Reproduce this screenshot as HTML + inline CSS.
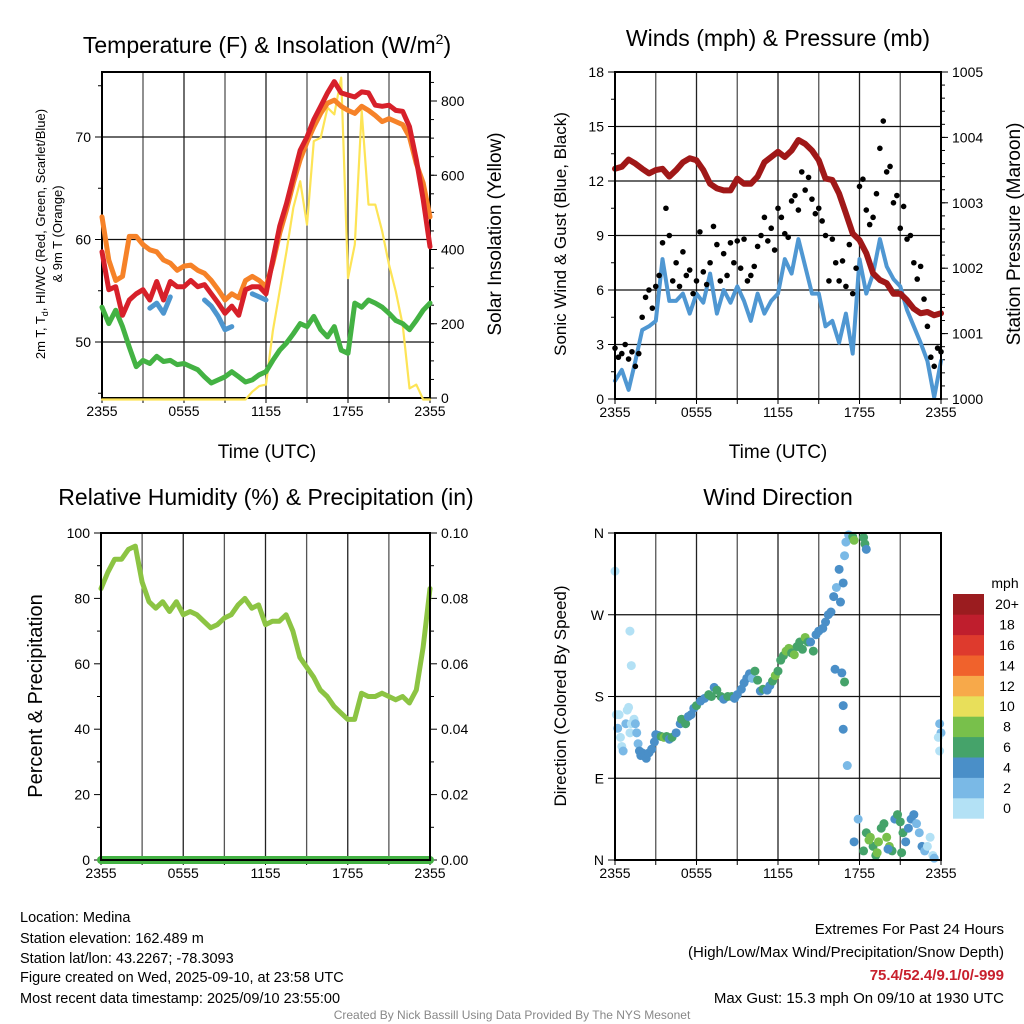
<!DOCTYPE html>
<html><head><meta charset="utf-8"><title>Medina Mesonet</title>
<style>
html,body{margin:0;padding:0;background:#fff;}
svg{display:block;font-family:"Liberation Sans",sans-serif;}
</style></head>
<body>
<svg id="fig" width="1024" height="1024" viewBox="0 0 1024 1024" xmlns="http://www.w3.org/2000/svg">
<rect x="0" y="0" width="1024" height="1024" fill="#fff"/>
<text x="267" y="53" font-size="23" text-anchor="middle">Temperature (F) &amp; Insolation (W/m<tspan font-size="14" dy="-9">2</tspan><tspan dy="9">)</tspan></text>
<text x="778" y="46" font-size="23" text-anchor="middle">Winds (mph) &amp; Pressure (mb)</text>
<text x="266" y="505" font-size="23" text-anchor="middle">Relative Humidity (%) &amp; Precipitation (in)</text>
<text x="778" y="505" font-size="23" text-anchor="middle">Wind Direction</text>

<text x="267" y="458" font-size="19" text-anchor="middle">Time (UTC)</text>
<text x="778" y="458" font-size="19" text-anchor="middle">Time (UTC)</text>

<text transform="translate(45,234) rotate(-90)" font-size="13" text-anchor="middle">2m T, T<tspan font-size="9" dy="3">d</tspan><tspan dy="-3">, HI/WC (Red, Green, Scarlet/Blue)</tspan></text>
<text transform="translate(62,234) rotate(-90)" font-size="13" text-anchor="middle">&amp; 9m T (Orange)</text>
<text transform="translate(501,234) rotate(-90)" font-size="19" text-anchor="middle">Solar Insolation (Yellow)</text>
<text transform="translate(566,234) rotate(-90)" font-size="17" text-anchor="middle">Sonic Wind &amp; Gust (Blue, Black)</text>
<text transform="translate(1020,234) rotate(-90)" font-size="19" text-anchor="middle">Station Pressure (Maroon)</text>
<text transform="translate(42,696) rotate(-90)" font-size="20" text-anchor="middle">Percent &amp; Precipitation</text>
<text transform="translate(566,696) rotate(-90)" font-size="17" text-anchor="middle">Direction (Colored By Speed)</text>

<g id="panels"></g>

<g font-size="14.5">
<text x="20" y="922">Location: Medina</text>
<text x="20" y="943">Station elevation: 162.489 m</text>
<text x="20" y="963">Station lat/lon: 43.2267; -78.3093</text>
<text x="20" y="982">Figure created on Wed, 2025-09-10, at 23:58 UTC</text>
<text x="20" y="1003">Most recent data timestamp: 2025/09/10 23:55:00</text>
</g>
<g font-size="15" text-anchor="end">
<text x="1004" y="934">Extremes For Past 24 Hours</text>
<text x="1004" y="957">(High/Low/Max Wind/Precipitation/Snow Depth)</text>
<text x="1004" y="980" fill="#c8202d" font-weight="bold">75.4/52.4/9.1/0/-999</text>
<text x="1004" y="1003">Max Gust: 15.3 mph On 09/10 at 1930 UTC</text>
</g>
<text x="512" y="1019" font-size="12" fill="#888" text-anchor="middle">Created By Nick Bassill Using Data Provided By The NYS Mesonet</text>
</svg>
<script>
// ---- data (half-hourly, hours since 2355 UTC) ----
const hours = [0,0.5,1,1.5,2,2.5,3,3.5,4,4.5,5,5.5,6,6.5,7,7.5,8,8.5,9,9.5,10,10.5,11,11.5,12,12.5,13,13.5,14,14.5,15,15.5,16,16.5,17,17.5,18,18.5,19,19.5,20,20.5,21,21.5,22,22.5,23,23.5,24];
const temp2m = [58.8,55.1,55.4,52.6,54.1,54.7,55.1,54.1,55.9,54.1,55.9,55.4,55.4,56.0,55.4,55.6,54.7,53.8,52.8,53.5,52.6,55.1,55.4,55.4,54.7,58,61.3,63.5,66.1,68.7,70,71.7,73,74.3,75.4,74.3,74.1,73.9,74.4,74.3,73.1,73,73.1,72.6,72.5,71,67.8,63.9,59.3];
const temp9m = [62.2,58,56,56.4,60.3,60.3,59.5,59,58.8,58,57.7,57,57.4,57.5,57,56.7,56,55.1,54.1,54.7,54.3,56,56.4,56,55.4,57.7,60.6,62.9,65.5,67.8,69.5,71,72.3,73.3,73.6,73,72.6,72.3,73,72.6,72.1,71.5,71.8,71.5,71.2,70,67.4,65.5,62.2];
const hiwc = [null,null,null,null,null,null,null,53.3,53.8,52.8,54.4,null,null,null,null,54.1,53.5,52.5,51.2,51.5,null,null,54.7,54.4,54.1,null,null,null,null,null,null,null,null,null,null,null,null,null,null,null,null,null,null,null,null,null,null,null,null];
const dewpt = [53.4,51.8,53.1,51.5,49.5,47.6,48.2,47.9,48.6,48.1,48.2,47.8,47.9,47.6,47.3,46.6,46,46.3,46.6,47.1,46.6,46.1,46.3,46.8,47.1,48.2,49.2,49.9,50.8,51.8,51.5,52.5,51.2,50.5,51.5,49.2,48.9,53.8,53.4,54.1,53.8,53.4,52.8,52.1,51.8,51.2,52.1,53.1,53.8];
const solar = [0,0,0,0,0,0,0,0,0,0,0,0,0,0,0,0,0,0,0,0,0,0,21,36,40,184,292,399,516,588,471,696,705,786,768,867,327,417,777,525,525,453,363,291,201,30,40,0,0];
const windSpd = [1.0,1.6,0.5,2.1,3.8,4.0,4.3,7.7,5.4,5.4,5.8,4.7,5.8,5.3,6.9,4.7,6.0,5.3,6.2,5.4,4.3,5.8,4.7,5.4,5.8,7.7,6.9,8.8,7.3,5.8,5.8,4.0,4.3,3.1,4.7,2.5,7.7,5.8,6.9,8.8,7.3,6.6,6.2,4.9,4.0,3.1,2.1,0.1,2.1];
const pressure = [1003.52,1003.55,1003.66,1003.6,1003.52,1003.45,1003.5,1003.52,1003.4,1003.5,1003.62,1003.68,1003.65,1003.5,1003.29,1003.22,1003.19,1003.19,1003.37,1003.29,1003.29,1003.4,1003.62,1003.7,1003.78,1003.7,1003.8,1003.96,1003.9,1003.8,1003.65,1003.37,1003.35,1003.14,1002.84,1002.53,1002.43,1002.23,1001.92,1001.82,1001.77,1001.61,1001.61,1001.51,1001.38,1001.31,1001.33,1001.28,1001.31];
const rh = [83,88,92,92,95,96,85,79,77,79,76,79,75,76,75,73,71,72,74,75,78,80,77,78,72,73,73,75,70,62,59,56,52,50,47,45,43,43,51,50,50,51,50,49,50,48,52,65,83];
const precip = [0,0,0,0,0,0,0,0,0,0,0,0,0,0,0,0,0,0,0,0,0,0,0,0,0,0,0,0,0,0,0,0,0,0,0,0,0,0,0,0,0,0,0,0,0,0,0,0,0];
// gusts every 15 min
const gusts = [2.8,2.3,2.5,3.0,2.2,2.6,1.8,2.5,4.5,5.6,6.0,5.0,6.2,6.8,8.6,10.5,9.0,6.5,7.5,6.2,8.1,6.8,7.1,5.8,6.5,9.2,7.0,6.3,7.5,9.5,8.5,6.5,8.0,6.8,8.6,7.5,8.7,7.2,8.8,6.5,6.8,7.3,8.4,9.0,10.0,8.7,9.4,8.2,10.5,10.0,9.1,8.9,10.9,11.2,10.4,12.5,11.5,12.2,11.0,10.2,10.5,9.8,9.0,6.5,8.8,7.5,6.5,7.6,6.2,8.5,5.8,7.2,11.7,12.1,10.4,9.6,10.0,11.3,13.8,15.3,12.5,12.8,10.8,11.2,9.4,10.6,8.8,9.0,7.5,6.6,7.3,5.5,4.0,2.3,1.8,2.8,2.6];
// wind direction scatter
const dirHours = [0.0,0.1,0.2,0.3,0.4,0.5,0.6,0.8,0.9,1.0,1.1,1.2,1.1,1.2,1.4,1.5,1.6,1.7,1.8,1.9,2.0,2.2,2.3,2.5,2.7,2.9,3.0,3.2,3.4,3.6,3.8,4.0,4.2,4.5,4.8,4.9,5.2,5.4,5.6,5.8,6.0,6.3,6.6,6.9,7.1,7.3,7.5,7.8,8.0,8.3,8.6,8.8,9.0,9.3,9.5,9.7,9.9,10.1,10.3,10.5,10.7,10.9,11.2,11.4,11.6,11.8,12.0,12.2,12.4,12.6,12.8,13.0,13.2,13.4,13.6,13.8,14.0,14.2,14.4,14.6,14.8,15.0,15.3,15.5,15.7,15.9,16.1,16.3,16.5,16.2,16.6,16.8,16.9,17.0,17.2,17.5,17.6,18.3,18.4,18.5,16.7,16.9,16.8,16.8,17.1,17.9,17.6,18.3,18.5,18.8,19.0,19.2,19.4,19.6,19.8,20.0,20.2,20.4,20.6,20.8,21.0,21.2,21.4,21.6,21.8,22.0,22.2,22.4,22.6,22.8,23.0,23.2,23.4,23.5,18.7,19.3,20.1,21.1,23.9,24.0,23.8,23.9];
const dirDeg = [318,160,145,160,135,125,120,150,165,168,252,214,140,150,155,150,140,128,120,115,118,115,112,118,122,130,138,137,136,135,136,133,135,140,150,155,150,158,160,167,170,175,178,182,180,190,187,180,177,180,180,178,182,188,195,200,205,200,208,198,186,188,187,192,197,203,208,220,225,230,233,228,226,235,240,232,245,240,240,230,248,252,255,262,270,273,290,300,320,210,284,305,335,350,358,356,352,355,348,342,206,196,170,144,104,45,20,10,30,25,15,5,20,35,40,25,15,10,45,50,42,30,20,35,45,50,40,30,15,10,15,25,5,2,22,8,12,8,150,140,135,120];
const dirSpd = [0.5,1,2.5,0.5,1,0.5,2.5,2.5,1,0.5,0.5,0.5,0.5,1,0.5,2.5,2.5,3.5,4.5,4.5,4.5,4.5,4.5,4.5,4.5,4.5,4.5,5,6.5,8.5,6.5,4.5,6.5,4.5,4.5,6.5,6.5,4.5,4.5,4.5,6.5,4.5,4.5,6.5,6.5,4.5,6.5,6.5,4.5,6.5,6.5,4.5,4.5,4.5,4.5,4.5,4.5,3.5,6.5,6.5,4.5,6.5,4.5,4.5,6.5,8.5,6.5,6.5,6.5,8.5,8.5,6.5,8.5,6.5,6.5,6.5,8.5,6.5,4.5,6.5,4.5,4.5,4.5,4.5,4.5,4.5,4.5,2.5,4.5,4.5,4.5,4.5,2.5,2.5,2.5,6.5,8.5,6.5,6.5,4.5,4.5,6.5,4.5,4.5,2.5,2.5,4.5,6.5,6.5,8.5,6.5,6.5,8.5,6.5,6.5,8.5,8.5,6.5,4.5,6.5,6.5,6.5,4.5,4.5,4.5,4.5,2.5,2.5,4.5,2.5,0.5,0.5,0.5,2.5,8.5,8.5,4.5,6.5,2.5,2.5,0.5,0.5];
const cbLabels = ["0","2","4","6","8","10","12","14","16","18","20+"];
const cbColors = ["#b3e1f5","#7ab9e6","#4a8fc8","#45a36a","#78c04b","#e8df5a","#f7a94a","#f0622c","#de3a2d","#bf1e2d","#9b1c1f"];
const xTickHours = [0,6,12,18,24];
const xTickLabels = ["2355","0555","1155","1755","2355"];

const NS = "http://www.w3.org/2000/svg";
const root = document.getElementById('panels');
function el(tag, attrs, parent){
  const e = document.createElementNS(NS, tag);
  for (const k in attrs) e.setAttribute(k, attrs[k]);
  (parent||root).appendChild(e);
  return e;
}
function lin(d0,d1,r0,r1){ return v => r0 + (v-d0)/(d1-d0)*(r1-r0); }

function frame(P, name){
  const g = el('g', {});
  
  
  P.x = lin(0,24,P.x0,P.x1);
  for (let h=3; h<24; h+=3){
    const ln = el('line',{x1:P.x(h),x2:P.x(h),y1:P.y0,y2:P.y1,stroke:(h%6===0?'#222':'#555'),'stroke-width':1.3},g);
    
    
  }
  for (let h=0; h<=24; h+=3){
    el('line',{x1:P.x(h),x2:P.x(h),y1:P.y1,y2:P.y1+5,stroke:'#000','stroke-width':1},g);
  }
  xTickHours.forEach((h,i)=>{
    const t = el('text',{x:P.x(h),y:P.y1+18,'font-size':14,'text-anchor':'middle'},g);
    t.textContent = xTickLabels[i];
    
    
  });
  return g;
}
function yAxis(P, g, scale, ticks, labels, minor, side, hgrid){
  const xa = side==='left'?P.x0:P.x1;
  const dir = side==='left'?-1:1;
  minor.forEach(v=>{ el('line',{x1:xa,x2:xa+dir*4,y1:scale(v),y2:scale(v),stroke:'#000','stroke-width':1},g); });
  ticks.forEach((v,i)=>{
    const y = scale(v);
    el('line',{x1:xa,x2:xa+dir*7,y1:y,y2:y,stroke:'#000','stroke-width':1},g);
    if (hgrid) el('line',{x1:P.x0,x2:P.x1,y1:y,y2:y,stroke:'#111','stroke-width':1.3},g);
    const t = el('text',{x:xa+dir*11,y:y+5,'font-size':14,'text-anchor':side==='left'?'end':'start'},g);
    t.textContent = labels[i];
    
    
  });
}
function border(P,g){
  const r = el('rect',{x:P.x0,y:P.y0,width:P.x1-P.x0,height:P.y1-P.y0,fill:'none',stroke:'#000','stroke-width':2},g);
  
  
}
function line(P, g, xs, ys, ysc, color, w, name){
  let d = '', pen = false;
  xs.forEach((h,i)=>{
    const v = ys[i];
    if (v===null || v===undefined){ pen=false; return; }
    d += (pen?'L':'M') + P.x(h).toFixed(1) + ',' + ysc(v).toFixed(1);
    pen = true;
  });
  const p = el('path',{d:d,fill:'none',stroke:color,'stroke-width':w,'stroke-linejoin':'round','stroke-linecap':'round'},g);
  
  
  return p;
}
function range(a,b,s){ const r=[]; for(let v=a; v<=b+1e-9; v+=s) r.push(+v.toFixed(4)); return r; }

// ---- Panel 1: temperature ----
const P1 = {x0:102,x1:430,y0:72,y1:398};
const g1 = frame(P1,'temperature-panel');
const yT = lin(50,70,342,137);
const yS = lin(0,800,398,101);
yAxis(P1,g1,yT,[50,60,70],["50","60","70"],[45,55,65,75],'left',true);
yAxis(P1,g1,yS,[0,200,400,600,800],["0","200","400","600","800"],range(50,850,50),'right',false);
border(P1,g1);
const ySolar = v => yS(v) + 1.5;
line(P1,g1,hours,solar,ySolar,'#fde456',2.2,'solar-insolation-line');
line(P1,g1,hours,dewpt,yT,'#43b243',5,'dewpoint-line');
line(P1,g1,hours,temp9m,yT,'#f68228',5,'temp-9m-line');
line(P1,g1,hours,hiwc,yT,'#4d96cf',5,'heat-index-windchill-line');
line(P1,g1,hours,temp2m,yT,'#d7202a',5,'temp-2m-line');

// ---- Panel 2: winds ----
const P2 = {x0:615,x1:941,y0:72,y1:399};
const g2 = frame(P2,'winds-panel');
const yW = lin(0,18,399,72);
const yP = lin(1000,1005,399,72);
yAxis(P2,g2,yW,[0,3,6,9,12,15,18],["0","3","6","9","12","15","18"],range(1.5,16.5,3),'left',true);
yAxis(P2,g2,yP,[1000,1001,1002,1003,1004,1005],["1000","1001","1002","1003","1004","1005"],range(1000.2,1004.8,0.2),'right',false);
line(P2,g2,hours,windSpd,yW,'#4f97d2',4,'wind-speed-line');
gusts.forEach((v,i)=>{
  const c = el('circle',{cx:P2.x(i*0.25),cy:yW(v),r:2.8,fill:'#000'},g2);
  
  
});
line(P2,g2,hours,pressure,yP,'#a01818',6,'pressure-line');
border(P2,g2);

// ---- Panel 3: RH ----
const P3 = {x0:101,x1:430,y0:533,y1:860};
const g3 = frame(P3,'humidity-panel');
const yR = lin(0,100,860,533);
const yPr = lin(0,0.1,860,533);
yAxis(P3,g3,yR,[0,20,40,60,80,100],["0","20","40","60","80","100"],range(10,90,20),'left',false);
yAxis(P3,g3,yPr,[0,0.02,0.04,0.06,0.08,0.1],["0.00","0.02","0.04","0.06","0.08","0.10"],range(0.01,0.09,0.02),'right',false);
line(P3,g3,hours,rh,yR,'#8cc443',5,'relative-humidity-line');
line(P3,g3,hours,precip,yPr,'#43b243',8,'precipitation-line');
border(P3,g3);

// ---- Panel 4: wind direction ----
const P4 = {x0:615,x1:941,y0:533,y1:860};
const g4 = frame(P4,'wind-direction-panel');
const yD = lin(0,360,860,533);
yAxis(P4,g4,yD,[0,90,180,270,360],["N","E","S","W","N"],[],'left',true);
dirHours.forEach((h,i)=>{
  const idx = Math.min(10, Math.floor(dirSpd[i]/2));
  const c = el('circle',{cx:P4.x(h),cy:yD(dirDeg[i]),r:4.5,fill:cbColors[idx]},g4);
  
  
});
border(P4,g4);

// colorbar
const gc = el('g',{});


const cbTop = 594, cbH = 20.4;
const mt = el('text',{x:1005,y:588,'font-size':14,'text-anchor':'middle'},gc);
mt.textContent = 'mph';
cbColors.forEach((c,i)=>{
  const y = cbTop + (10-i)*cbH;
  const r = el('rect',{x:953,y:y,width:31,height:cbH+0.3,fill:c},gc);
  
  
  const t = el('text',{x:1007,y:y+cbH/2+5,'font-size':14,'text-anchor':'middle'},gc);
  t.textContent = cbLabels[i];
  
  
});
</script>
</body></html>
